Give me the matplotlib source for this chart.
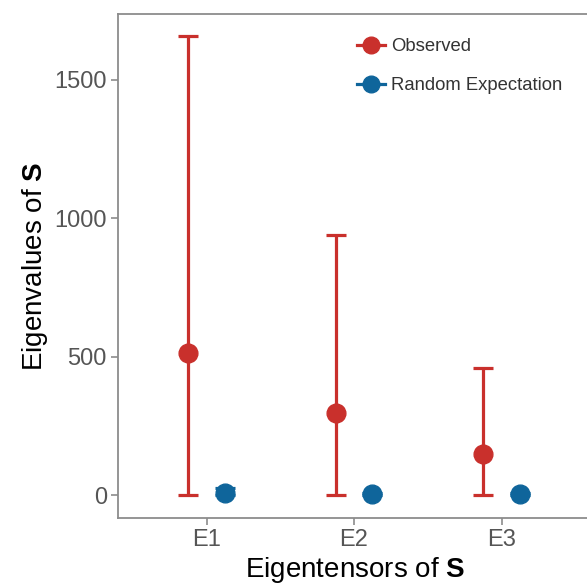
import matplotlib
matplotlib.use("Agg")
import matplotlib.pyplot as plt
from matplotlib.lines import Line2D

plt.rcParams['font.family'] = ['Liberation Sans', 'DejaVu Sans']
plt.rcParams['mathtext.fontset'] = 'custom'
plt.rcParams['mathtext.rm'] = 'Liberation Sans'
plt.rcParams['mathtext.bf'] = 'Liberation Sans:bold'

categories = ['E1', 'E2', 'E3']
obs_mean = [513, 297, 148]
obs_low = [0, 0, 0]
obs_high = [1657, 940, 458]
rand_mean = [6, 4, 4]
rand_low = [0, 0, 0]
rand_high = [25, 8, 8]

RED = '#c9302c'
BLUE = '#0f659b'
GREY = '#555555'

W, H = 587, 586
fig = plt.figure(figsize=(W / 100, H / 100), dpi=100)
# axes box in pixels: left 118, right past the image edge, top 14, bottom 518
ax = fig.add_axes([118 / W, (H - 518) / H, (593 - 118) / W, (518 - 14) / H])

x = list(range(1, len(categories) + 1))
dodge = 0.125

for xs, mean, lo, hi, col in [
    ([v - dodge for v in x], obs_mean, obs_low, obs_high, RED),
    ([v + dodge for v in x], rand_mean, rand_low, rand_high, BLUE),
]:
    yerr = [[m - l for m, l in zip(mean, lo)], [h - m for m, h in zip(mean, hi)]]
    ax.errorbar(xs, mean, yerr=yerr, fmt='o', color=col, ecolor=col,
                elinewidth=2.3, capsize=7.5, capthick=2.3, markersize=13.5,
                zorder=3)

# 147.5 px per category, E1 at 88.5 px from the left spine
ax.set_xlim(0.4, 0.4 + (593 - 118) / 147.5)
ax.set_ylim(-83, 1738)
ax.set_xticks(x)
ax.set_xticklabels(categories)
ax.set_yticks([0, 500, 1000, 1500])

for s in ax.spines.values():
    s.set_color('#8c8c8c')
    s.set_linewidth(1.3)
ax.spines['right'].set_visible(False)

ax.tick_params(axis='both', colors='#8c8c8c', labelcolor=GREY,
               labelsize=17, length=5, width=1.2, pad=3)

ax.set_xlabel(r'Eigentensors of $\mathbf{S}$', fontsize=20, color='black')
ax.xaxis.set_label_coords(355 / W, 1 - 555 / H, transform=fig.transFigure)
ax.set_ylabel(r'Eigenvalues of $\mathbf{S}$', fontsize=20, color='black',
              labelpad=3)

handles = [
    Line2D([], [], color=RED, marker='o', markersize=12, linewidth=2.3),
    Line2D([], [], color=BLUE, marker='o', markersize=12, linewidth=2.3),
]
ax.legend(handles, ['Observed', 'Random Expectation'], frameon=False,
          loc='upper left', bbox_to_anchor=(357 / W, 1 - 38 / H),
          bbox_transform=fig.transFigure, borderpad=0, borderaxespad=0,
          fontsize=13.3, handlelength=1.5, handletextpad=0.35,
          labelspacing=1.2, labelcolor='#333333')

fig.savefig('out.png', dpi=100)
